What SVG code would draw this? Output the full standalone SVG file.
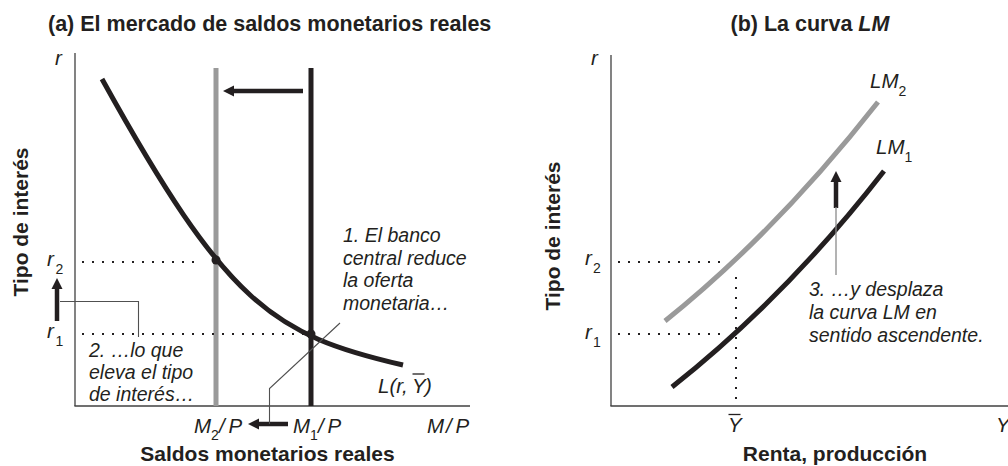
<svg xmlns="http://www.w3.org/2000/svg" width="1008" height="466" viewBox="0 0 1008 466">
<defs>
<style>
.bg{fill:#ffffff}
.axis{stroke:#404040;stroke-width:1.3;fill:none}
.curve{fill:none;stroke:#231f20;stroke-width:5}
.gcurve{fill:none;stroke:#9a9a9a;stroke-width:5}
.dots{stroke:#231f20;stroke-width:2;stroke-dasharray:2 8;fill:none}
.lead{stroke:#505050;stroke-width:1.1;fill:none}
.lead2{stroke:#8a8a8a;stroke-width:1.3;fill:none}
.arrow{stroke:#231f20;stroke-width:4.5;fill:none;marker-end:url(#head)}
.title{font-family:"Liberation Sans",Arial,sans-serif;font-weight:bold;font-size:21.5px;fill:#231f20}
.atitle{font-family:"Liberation Sans",Arial,sans-serif;font-weight:bold;font-size:21px;fill:#231f20}
.note{font-family:"Liberation Sans",Arial,sans-serif;font-style:italic;font-size:19.5px;fill:#231f20}
.math{font-family:"Liberation Sans",Arial,sans-serif;font-style:italic;font-size:20.5px;fill:#231f20}
.sub{font-family:"Liberation Sans",Arial,sans-serif;font-style:normal;font-size:14px;fill:#231f20}
.bar{stroke:#231f20;stroke-width:1.3}
</style>
<marker id="head" markerUnits="userSpaceOnUse" markerWidth="12" markerHeight="12" viewBox="0 0 12 12" refX="0" refY="6" orient="auto">
<path d="M0,0.5 L11,6 L0,11.5 Z" fill="#231f20"/>
</marker>
</defs>
<rect class="bg" x="0" y="0" width="1008" height="466"/>

<g id="panel-a">
  <text id="title-a" class="title" x="48" y="31">(a) El mercado de saldos monetarios reales</text>
  <g id="axes-a">
    <line class="axis" x1="75" y1="53" x2="75" y2="406"/>
    <line class="axis" x1="74.4" y1="406" x2="470" y2="406"/>
    <text class="math" x="55" y="65">r</text>
    <text class="math" x="427" y="433">M<tspan x="446">/</tspan><tspan x="455.5">P</tspan></text>
    <text class="atitle" x="267.5" y="461" text-anchor="middle">Saldos monetarios reales</text>
    <text class="atitle" text-anchor="middle" transform="translate(28,222) rotate(-90)">Tipo de interés</text>
  </g>
  <g id="supply-2">
    <line class="gcurve" x1="216" y1="68" x2="216" y2="406" stroke-width="4.5"/>
    <text class="math" x="194" y="433">M<tspan class="sub" x="211" y="439.5">2</tspan><tspan x="219" y="433">/</tspan><tspan x="228.5">P</tspan></text>
  </g>
  <g id="supply-1">
    <line class="curve" x1="311" y1="68" x2="311" y2="406" stroke-width="4.5"/>
    <text class="math" x="293" y="433">M<tspan class="sub" x="310" y="439.5">1</tspan><tspan x="318" y="433">/</tspan><tspan x="327.5">P</tspan></text>
  </g>
  <g id="demand">
    <path class="curve" d="M102,79 C227,305 273,335 403,365"/>
    <text class="math" x="378" y="393">L(r, <tspan x="412">Y</tspan><tspan x="425">)</tspan></text>
    <line class="bar" x1="412.5" y1="374" x2="424.5" y2="374"/>
  </g>
  <g id="equilibria-a">
    <circle cx="216" cy="260" r="4.5" fill="#231f20"/>
    <circle cx="311" cy="334" r="4.5" fill="#231f20"/>
    <line class="dots" x1="82" y1="262" x2="200" y2="262"/>
    <line class="dots" x1="82" y1="334" x2="310" y2="334"/>
    <text class="math" x="47" y="266">r<tspan class="sub" x="55.5" y="273.5">2</tspan></text>
    <text class="math" x="47" y="338">r<tspan class="sub" x="55.5" y="346">1</tspan></text>
  </g>
  <g id="note-1">
    <text class="note" x="343" y="242">1. El banco</text>
    <text class="note" x="343" y="264.5">central reduce</text>
    <text class="note" x="343" y="287">la oferta</text>
    <text class="note" x="343" y="309.5">monetaria…</text>
  </g>
  <g id="note-2">
    <text class="note" x="89" y="357">2. …lo que</text>
    <text class="note" x="89" y="379">eleva el tipo</text>
    <text class="note" x="89" y="401">de interés…</text>
  </g>
</g>

<g id="panel-b">
  <text id="title-b" class="title" x="730.5" y="31">(b) La curva <tspan font-style="italic">LM</tspan></text>
  <g id="axes-b">
    <line class="axis" x1="611" y1="55" x2="611" y2="406"/>
    <line class="axis" x1="610.4" y1="406" x2="1008" y2="406"/>
    <text class="math" x="591" y="65">r</text>
    <text class="math" x="996" y="432">Y</text>
    <text class="atitle" x="835" y="461" text-anchor="middle">Renta, producción</text>
    <text class="atitle" text-anchor="middle" transform="translate(560,236) rotate(-90)">Tipo de interés</text>
  </g>
  <g id="lm2">
    <path class="gcurve" d="M665,321 Q776,232 878,102"/>
    <text class="math" x="870" y="88">LM<tspan class="sub" x="898.5" y="95.5">2</tspan></text>
  </g>
  <g id="lm1">
    <path class="curve" d="M672,387 Q787,296 884,171"/>
    <text class="math" x="876" y="154">LM<tspan class="sub" x="904.5" y="161.5">1</tspan></text>
  </g>
  <g id="levels-b">
    <line class="dots" x1="618" y1="262" x2="720" y2="262"/>
    <line class="dots" x1="618" y1="334" x2="720" y2="334"/>
    <line class="dots" x1="736" y1="277" x2="736" y2="402"/>
    <text class="math" x="585" y="265">r<tspan class="sub" x="593" y="273">2</tspan></text>
    <text class="math" x="585" y="339">r<tspan class="sub" x="593" y="347">1</tspan></text>
    <text class="math" x="728" y="432">Y</text>
    <line class="bar" x1="728.5" y1="414.5" x2="740.5" y2="414.5"/>
  </g>
  <g id="note-3">
    <text class="note" x="809" y="296">3. …y desplaza</text>
    <text class="note" x="809" y="319">la curva LM en</text>
    <text class="note" x="809" y="342">sentido ascendente.</text>
  </g>
</g>

<g id="connectors">
  <line class="arrow" x1="303" y1="91" x2="234" y2="91"/>
  <line class="arrow" x1="288" y1="424" x2="259" y2="424"/>
  <line class="arrow" x1="57" y1="321" x2="57" y2="289"/>
  <line class="arrow" x1="836" y1="208" x2="836" y2="182"/>
  <polyline class="lead" points="60,301.5 138.5,301.5 138.5,337"/>
  <polyline class="lead" points="340,323 269.5,388.5 269.5,424"/>
  <line class="lead2" x1="836" y1="207" x2="836" y2="275"/>
</g>
</svg>
